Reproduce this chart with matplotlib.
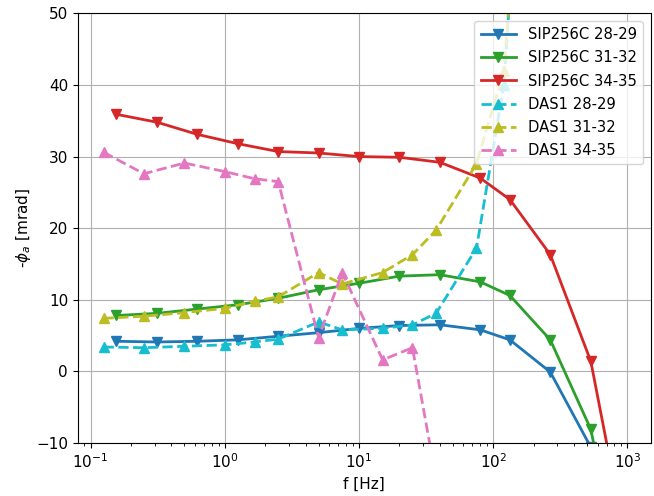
import matplotlib
matplotlib.use('Agg')
import matplotlib.pyplot as plt

plt.rcParams['font.size'] = 11

# SIP256C frequencies and apparent phase (-phi_a, mrad)
f_sip = [0.156, 0.3125, 0.625, 1.25, 2.5, 5, 10, 20, 40, 80, 133, 266, 533, 1000]
sip_28_29 = [4.2, 4.1, 4.2, 4.4, 4.9, 5.4, 6.0, 6.4, 6.5, 5.8, 4.4, -0.1, -10.6, -35]
sip_31_32 = [7.8, 8.1, 8.7, 9.3, 10.2, 11.4, 12.3, 13.3, 13.5, 12.5, 10.6, 4.4, -8.1, -33]
sip_34_35 = [35.9, 34.8, 33.1, 31.8, 30.7, 30.5, 30.0, 29.9, 29.2, 27.0, 24.0, 16.3, 1.4, -25]

# DAS1 frequencies and apparent phase
f_das = [0.125, 0.25, 0.5, 1, 1.67, 2.5, 5, 7.5, 15, 25, 37.5, 75, 120, 250]
das_28_29 = [3.4, 3.3, 3.5, 3.7, 4.1, 4.5, 6.9, 5.8, 6.0, 6.5, 8.1, 17.2, 40, 130]
das_31_32 = [7.4, 7.7, 8.2, 8.8, 9.8, 10.4, 13.8, 12.2, 13.8, 16.3, 19.7, 29.0, 42, 120]
das_34_35 = [30.6, 27.6, 29.1, 27.9, 26.9, 26.5, 4.7, 13.8, 1.6, 3.3, -15, -40, -60, -80]

fig = plt.figure(figsize=(6.54, 4.96), dpi=100)
ax = fig.add_subplot(111)
fig.subplots_adjust(left=0.119, right=0.995, top=0.973, bottom=0.107)

ax.semilogx(f_sip, sip_28_29, 'v-', color='C0', lw=2, ms=7, label='SIP256C 28-29')
ax.semilogx(f_sip, sip_31_32, 'v-', color='C2', lw=2, ms=7, label='SIP256C 31-32')
ax.semilogx(f_sip, sip_34_35, 'v-', color='C3', lw=2, ms=7, label='SIP256C 34-35')
ax.semilogx(f_das, das_28_29, '^--', color='C9', lw=2, ms=7, label='DAS1 28-29')
ax.semilogx(f_das, das_31_32, '^--', color='C8', lw=2, ms=7, label='DAS1 31-32')
ax.semilogx(f_das, das_34_35, '^--', color='C6', lw=2, ms=7, label='DAS1 34-35')

ax.set_xlim(0.0804, 1490)
ax.set_ylim(-10, 50)
ax.grid(True)
ax.set_xlabel('f [Hz]')
ax.set_ylabel(r'-$\phi_a$ [mrad]', labelpad=2)
ax.legend(loc='upper right', fontsize=10.6, handlelength=2.4,
          labelspacing=0.55, borderpad=0.45)

plt.savefig('out.png', dpi=100)
